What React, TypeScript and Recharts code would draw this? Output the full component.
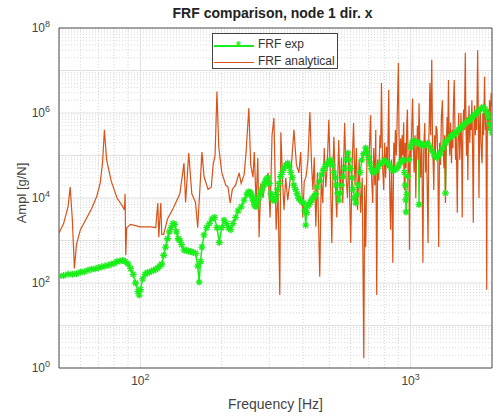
import { LineChart, Line, XAxis, YAxis, ReferenceLine } from 'recharts';

// [frequency Hz, amplitude g/N]
const FRF_EXP: [number, number][] = [
  [50, 145], [52, 150], [54, 160], [56, 160], [58, 165], [60, 180], [62, 185], [64, 200],
  [66, 210], [68, 215], [70, 230], [72, 240], [74, 250], [76, 260], [78, 275], [80, 290],
  [82, 320], [84, 330], [86, 340], [88, 320], [90, 280], [92, 220], [94, 160], [96, 100],
  [98, 63], [99, 52], [100, 70], [102, 125], [104, 160], [106, 175], [108, 180], [110, 190],
  [112, 200], [114, 210], [116, 225], [118, 250], [120, 280], [122, 450], [124, 700], [126, 1100],
  [128, 1600], [130, 2000], [132, 2500], [134, 2400], [136, 1600], [138, 1100], [140, 1000], [142, 800],
  [145, 600], [148, 580], [151, 560], [154, 550], [157, 520], [160, 500], [163, 250], [165, 105],
  [167, 320], [169, 700], [172, 1350], [176, 2000], [180, 2500], [184, 3200], [188, 3500], [192, 2000],
  [196, 900], [200, 2000], [204, 3000], [208, 2500], [212, 2000], [216, 1800], [220, 2500], [225, 3500],
  [230, 5000], [236, 6200], [242, 8900], [248, 1.2e4], [250, 1.3e4], [252, 1.4e4], [254, 1.35e4], [256, 1.3e4],
  [258, 1.15e4], [260, 1e4], [262, 8500], [264, 7000], [266, 6500], [268, 6300], [270, 7500], [272, 8900],
  [275, 1.05e4], [278, 1.26e4], [281, 1.5e4], [284, 1.8e4], [287, 2.1e4], [290, 2.5e4], [293, 2.8e4], [297, 3e4],
  [300, 2.2e4], [304, 1.26e4], [307, 1e4], [310, 8900], [313, 9000], [316, 9500], [319, 1.2e4], [322, 1.6e4],
  [326, 2.2e4], [330, 3.2e4], [335, 4e4], [340, 5e4], [345, 5.8e4], [351, 6.6e4], [355, 5.5e4], [360, 4e4],
  [365, 3e4], [370, 2e4], [375, 1.6e4], [380, 1.26e4], [385, 1e4], [390, 8900], [396, 8000], [402, 7600],
  [406, 5000], [409, 2300], [412, 4500], [415, 6300], [420, 7000], [425, 7900], [430, 9000], [435, 1e4],
  [440, 1.1e4], [445, 1.26e4], [452, 1.8e4], [460, 2.5e4], [467, 3.5e4], [475, 4.5e4], [482, 5.5e4], [490, 6.3e4],
  [498, 7e4], [507, 7.8e4], [513, 6e4], [520, 4e4], [525, 3e4], [530, 2e4], [536, 1.3e4], [543, 8900],
  [549, 1.3e4], [555, 2e4], [562, 3.2e4], [570, 5e4], [578, 8e4], [586, 1.15e5], [593, 8e4], [600, 5e4],
  [606, 3e4], [612, 1.6e4], [620, 1e4], [627, 7600], [633, 1.2e4], [640, 2e4], [650, 4e4], [660, 7.9e4],
  [670, 1.1e5], [682, 1.5e5], [690, 1.2e5], [700, 8.9e4], [707, 6.5e4], [715, 5e4], [722, 4.3e4], [730, 3.9e4],
  [745, 4.5e4], [760, 5.6e4], [777, 6.5e4], [795, 7.8e4], [812, 7e4], [830, 6.3e4], [845, 5.2e4], [860, 4.5e4],
  [875, 4.6e4], [890, 5e4], [905, 6e4], [920, 7.1e4], [932, 7.5e4], [942, 7.8e4], [949, 4e4], [955, 2e4],
  [959, 9000], [962, 4700], [968, 1.2e4], [975, 3.2e4], [987, 8e4], [1000, 1.6e5], [1012, 2e5], [1025, 2.3e5],
  [1042, 2.1e5], [1060, 2e5], [1070, 2e5], [1074, 7000], [1080, 1.8e5], [1090, 1.9e5], [1100, 1.8e5], [1118, 1.7e5],
  [1136, 1.85e5], [1155, 1.95e5], [1178, 1.6e5], [1200, 1.26e5], [1225, 1e5], [1250, 8.9e4], [1270, 1e5], [1290, 1.15e5],
  [1315, 1.5e5], [1340, 2e5], [1345, 1.3e4], [1350, 2e5], [1375, 2.4e5], [1405, 2.75e5], [1428, 3e5], [1450, 3.16e5],
  [1475, 3.5e5], [1500, 4e5], [1530, 4.5e5], [1560, 5e5], [1590, 5.6e5], [1620, 6.3e5], [1642, 6.6e5], [1665, 6.9e5],
  [1692, 8e5], [1720, 8.9e5], [1750, 1e6], [1780, 1.1e6], [1820, 1.25e6], [1860, 1.4e6], [1890, 1.2e6], [1920, 1e6],
  [1940, 8e5], [1960, 5.6e5], [1980, 4.3e5], [2000, 3.4e5],
];

const FRF_ANALYTICAL: [number, number][] = [
  [50, 1500], [52, 2500], [54, 6300], [55, 1.8e4], [56, 3200], [57, 220], [58, 800], [60, 1800],
  [63, 3200], [66, 5600], [69, 1.1e4], [71, 2.2e4], [72.5, 7e4], [73.6, 4e5], [75, 8e4], [78, 2.5e4],
  [82, 1e4], [86, 6300], [87.3, 5200], [87.8, 1.26e4], [88.3, 450], [89, 2000], [92, 2400], [100, 2100],
  [110, 2100], [114, 2000], [116, 7600], [117, 1200], [119, 7600], [120, 1400], [122, 1400], [126, 3200],
  [132, 5600], [140, 1.26e4], [145, 6.6e4], [147, 7900], [151, 1.15e5], [155, 1.26e4], [160, 7900], [163, 2000],
  [169, 1.2e5], [172, 3.2e4], [178, 1.6e4], [183, 1.8e4], [186, 6.3e4], [189, 1e5], [192, 3.2e6], [195, 1.6e5],
  [200, 4e4], [207, 2e4], [211, 1.8e4], [215, 7600], [219, 1.6e4], [225, 2e4], [232, 3.9e4], [236, 2.2e4],
  [242, 3.5e4], [246, 1.15e5], [252, 1.3e6], [256, 6e4], [261, 3.1e4], [264, 1.2e5], [268, 7600], [272, 8.7e4],
  [275, 1200], [279, 2.2e4], [284, 1e4], [290, 2.5e4], [297, 3.9e4], [302, 3500], [307, 3e5], [312, 7.6e5],
  [318, 1800], [323, 1.55e4], [328, 52], [331, 3.5e5], [336, 2.5e4], [340, 5200], [345, 3e4], [351, 8900],
  [360, 3.5e4], [370, 4e5], [378, 6e4], [386, 3.9e4], [392, 1.2e5], [399, 3500], [404, 2.5e4], [410, 3.1e4],
  [417, 8e4], [424, 1.05e6], [430, 6e4], [435, 1.55e4], [440, 9e4], [446, 2100], [452, 4e4], [461, 140],
  [467, 3e4], [473, 7600], [479, 1.5e5], [485, 1.8e4], [491, 5e4], [498, 6.9e5], [505, 3e4], [511, 870],
  [516, 5e4], [520, 2.75e5], [527, 2e4], [533, 3500], [538, 4e4], [542, 2.3e5], [548, 1.5e4], [555, 9e4],
  [561, 7600], [566, 1e5], [570, 5.8e5], [577, 3e4], [584, 1e4], [590, 1.2e5], [600, 870], [607, 5e4],
  [615, 5.8e5], [622, 2e4], [630, 1.5e5], [636, 5200], [645, 8e4], [653, 4500], [662, 3e4], [671, 1.7],
  [676, 2e4], [682, 700], [690, 1.5e5], [700, 6.6e4], [705, 2e5], [711, 8.9e5], [717, 3e4], [724, 7600],
  [730, 1.5e5], [737, 2e4], [743, 4e5], [749, 52], [755, 8e4], [762, 2.6e4], [770, 3e5], [775, 1.5e5],
  [780, 5.1e6], [787, 6e4], [795, 1.55e4], [802, 2e5], [808, 3e4], [815, 1.6e5], [822, 5e4], [830, 3.5e6],
  [836, 2e4], [843, 1800], [850, 8e4], [859, 300], [866, 2e5], [872, 5e4], [878, 4e5], [885, 1e5],
  [892, 8e5], [901, 1.5e7], [906, 3e5], [912, 5e4], [918, 2.5e5], [924, 6.6e4], [930, 3e5], [936, 1e5],
  [942, 6e5], [948, 1.55e4], [955, 2e5], [962, 5e4], [968, 6e5], [973, 1.2e6], [980, 4e4], [985, 1e5],
  [990, 600], [997, 2e5], [1003, 8e4], [1010, 5e5], [1017, 2.2e6], [1024, 1.5e5], [1030, 4e4], [1038, 3e5],
  [1045, 1e4], [1052, 1.2e5], [1060, 5e5], [1067, 8e4], [1074, 1.7e6], [1082, 2e5], [1090, 3e4], [1100, 2e5],
  [1110, 300], [1118, 1.5e5], [1128, 5.8e5], [1135, 4e4], [1142, 2e5], [1150, 3e4], [1160, 870], [1166, 1.5e5],
  [1172, 6e5], [1178, 5.1e6], [1186, 3e5], [1197, 1.8e7], [1205, 2e5], [1212, 6e4], [1218, 1.55e4], [1226, 3e5],
  [1234, 8e4], [1242, 5e5], [1252, 4e5], [1260, 1e5], [1270, 700], [1280, 2e5], [1290, 6e4], [1300, 8e5],
  [1311, 2e6], [1320, 1.5e5], [1328, 5e4], [1336, 3e5], [1345, 7600], [1355, 2e5], [1365, 8e5], [1372, 2e5],
  [1380, 6e6], [1388, 3e5], [1395, 1e5], [1405, 6e5], [1416, 6.6e4], [1425, 4e5], [1433, 1.5e5], [1440, 1.5e6],
  [1450, 6e6], [1458, 5e5], [1466, 8e4], [1475, 3e5], [1488, 4500], [1497, 2e5], [1505, 1e6], [1512, 3e5],
  [1520, 8e4], [1527, 2.3e5], [1535, 1e6], [1544, 1.5e5], [1552, 3500], [1560, 3e5], [1570, 1.2e6], [1580, 4e5],
  [1593, 2.6e7], [1602, 5e5], [1610, 1e5], [1618, 8e5], [1628, 2.6e4], [1636, 4e5], [1645, 1.5e6], [1655, 2e5],
  [1665, 8e5], [1675, 4e5], [1685, 2e6], [1695, 1.5e5], [1705, 2600], [1715, 5e5], [1725, 1.5e6], [1735, 3e5],
  [1745, 1e6], [1755, 4e5], [1770, 3e7], [1780, 8e5], [1790, 1e4], [1800, 5e5], [1810, 1.5e6], [1820, 2e5],
  [1837, 6.6e4], [1850, 1e6], [1862, 3e5], [1877, 7.1e6], [1890, 4e5], [1900, 1e6], [1912, 69], [1922, 5e5],
  [1935, 1.2e6], [1945, 4e5], [1958, 2e6], [1970, 6e5], [1985, 3e6], [2000, 1.4e6],
];

const X_TICKS = [100, 1000];
const Y_TICKS = [1, 1e2, 1e4, 1e6, 1e8];
const X_MAJOR = [100, 1000];
const X_MINOR = [60, 70, 80, 90, 200, 300, 400, 500, 600, 700, 800, 900];
const Y_MAJOR = [10, 1e2, 1e3, 1e4, 1e5, 1e6, 1e7];
const Y_MINOR = [1, 10, 100, 1000, 1e4, 1e5, 1e6, 1e7].flatMap(d => [2, 3, 4, 5, 6, 7, 8, 9].map(m => m * d));

const GREEN = '#19ee19';
const ORANGE = '#d95319';
const FONT = '"Liberation Sans", Arial, Helvetica, sans-serif';

const expData = FRF_EXP.map(([f, a]) => ({ f, a }));
const anaData = FRF_ANALYTICAL.map(([f, a]) => ({ f, a }));

const pow10 = (v: number) => Math.round(Math.log10(v));

const XTick = ({ x, y, payload }: any) => (
  <text x={x} y={y + 9} textAnchor="middle" fontSize={12} fill="#444" fontFamily={FONT}>
    10<tspan dy={-5} fontSize={9}>{pow10(payload.value)}</tspan>
  </text>
);

const YTick = ({ x, y, payload }: any) => (
  <text x={x - 1} y={y + 4} textAnchor="end" fontSize={12} fill="#444" fontFamily={FONT}>
    10<tspan dy={-5} fontSize={9}>{pow10(payload.value)}</tspan>
  </text>
);

// '*' marker like MATLAB
const Star = (props: any) => {
  const { cx, cy, index } = props;
  if (cx == null || cy == null) return <g key={index} />;
  const r = 3.5;
  const d = 2.5;
  return (
    <path
      key={index}
      d={`M${cx - r},${cy}H${cx + r}M${cx},${cy - r}V${cy + r}M${cx - d},${cy - d}L${cx + d},${cy + d}M${cx - d},${cy + d}L${cx + d},${cy - d}`}
      stroke={GREEN}
      strokeWidth={1.3}
      fill="none"
    />
  );
};

export default function App() {
  return (
    <div style={{ position: 'relative', width: 503, height: 418, background: '#fff', fontFamily: FONT }}>
      <style>{'body{margin:0}'}</style>
      <LineChart width={503} height={418} margin={{ top: 28, right: 11, bottom: 0, left: 0 }}>
        <XAxis
          dataKey="f"
          type="number"
          scale="log"
          domain={[50, 2000]}
          allowDataOverflow
          ticks={X_TICKS}
          tick={<XTick />}
          tickLine={false}
          height={50}
          stroke="#444"
        />
        <YAxis
          type="number"
          scale="log"
          domain={[1, 1e8]}
          allowDataOverflow
          ticks={Y_TICKS}
          tick={<YTick />}
          tickLine={false}
          width={59}
          stroke="#444"
        />
        {X_MINOR.map(v => (
          <ReferenceLine key={'xm' + v} x={v} stroke="#d4d4d4" strokeDasharray="1 2" />
        ))}
        {Y_MINOR.map(v => (
          <ReferenceLine key={'ym' + v} y={v} stroke="#d8d8d8" strokeDasharray="1 2" />
        ))}
        {X_MAJOR.map(v => (
          <ReferenceLine key={'xM' + v} x={v} stroke="#e0e0e0" />
        ))}
        {Y_MAJOR.map(v => (
          <ReferenceLine key={'yM' + v} y={v} stroke="#e0e0e0" />
        ))}
        <ReferenceLine x={2000} stroke="#444" />
        <ReferenceLine y={1e8} stroke="#444" />
        <Line
          data={expData}
          dataKey="a"
          stroke={GREEN}
          strokeWidth={1.5}
          dot={<Star />}
          activeDot={false}
          isAnimationActive={false}
        />
        <Line
          data={anaData}
          dataKey="a"
          stroke={ORANGE}
          strokeWidth={1.2}
          dot={false}
          activeDot={false}
          isAnimationActive={false}
        />
      </LineChart>

      <div style={{ position: 'absolute', left: 0, width: 545, top: 5, textAlign: 'center', fontSize: 14, fontWeight: 'bold', color: '#222' }}>
        FRF comparison, node 1 dir. x
      </div>
      <div style={{ position: 'absolute', left: 0, width: 551, top: 396, textAlign: 'center', fontSize: 14, color: '#444' }}>
        Frequency [Hz]
      </div>
      <div
        style={{
          position: 'absolute', left: 21, top: 193, fontSize: 13, color: '#444', whiteSpace: 'nowrap',
          transform: 'translate(-50%, -50%) rotate(-90deg)',
        }}
      >
        Ampl [g/N]
      </div>
      <div
        style={{
          position: 'absolute', left: 212, top: 33, width: 124, height: 34, border: '1px solid #444',
          background: '#fff', fontSize: 12, color: '#333',
        }}
      >
        <div style={{ position: 'absolute', left: 1, top: 11, width: 40, height: 1.5, background: GREEN }} />
        <div style={{ position: 'absolute', left: 23, top: 6, fontSize: 12, lineHeight: '12px', color: GREEN, fontWeight: 'bold' }}>*</div>
        <div style={{ position: 'absolute', left: 45, top: 3 }}>FRF exp</div>
        <div style={{ position: 'absolute', left: 1, top: 28, width: 40, height: 1, background: ORANGE }} />
        <div style={{ position: 'absolute', left: 45, top: 20 }}>FRF analytical</div>
      </div>
    </div>
  );
}
